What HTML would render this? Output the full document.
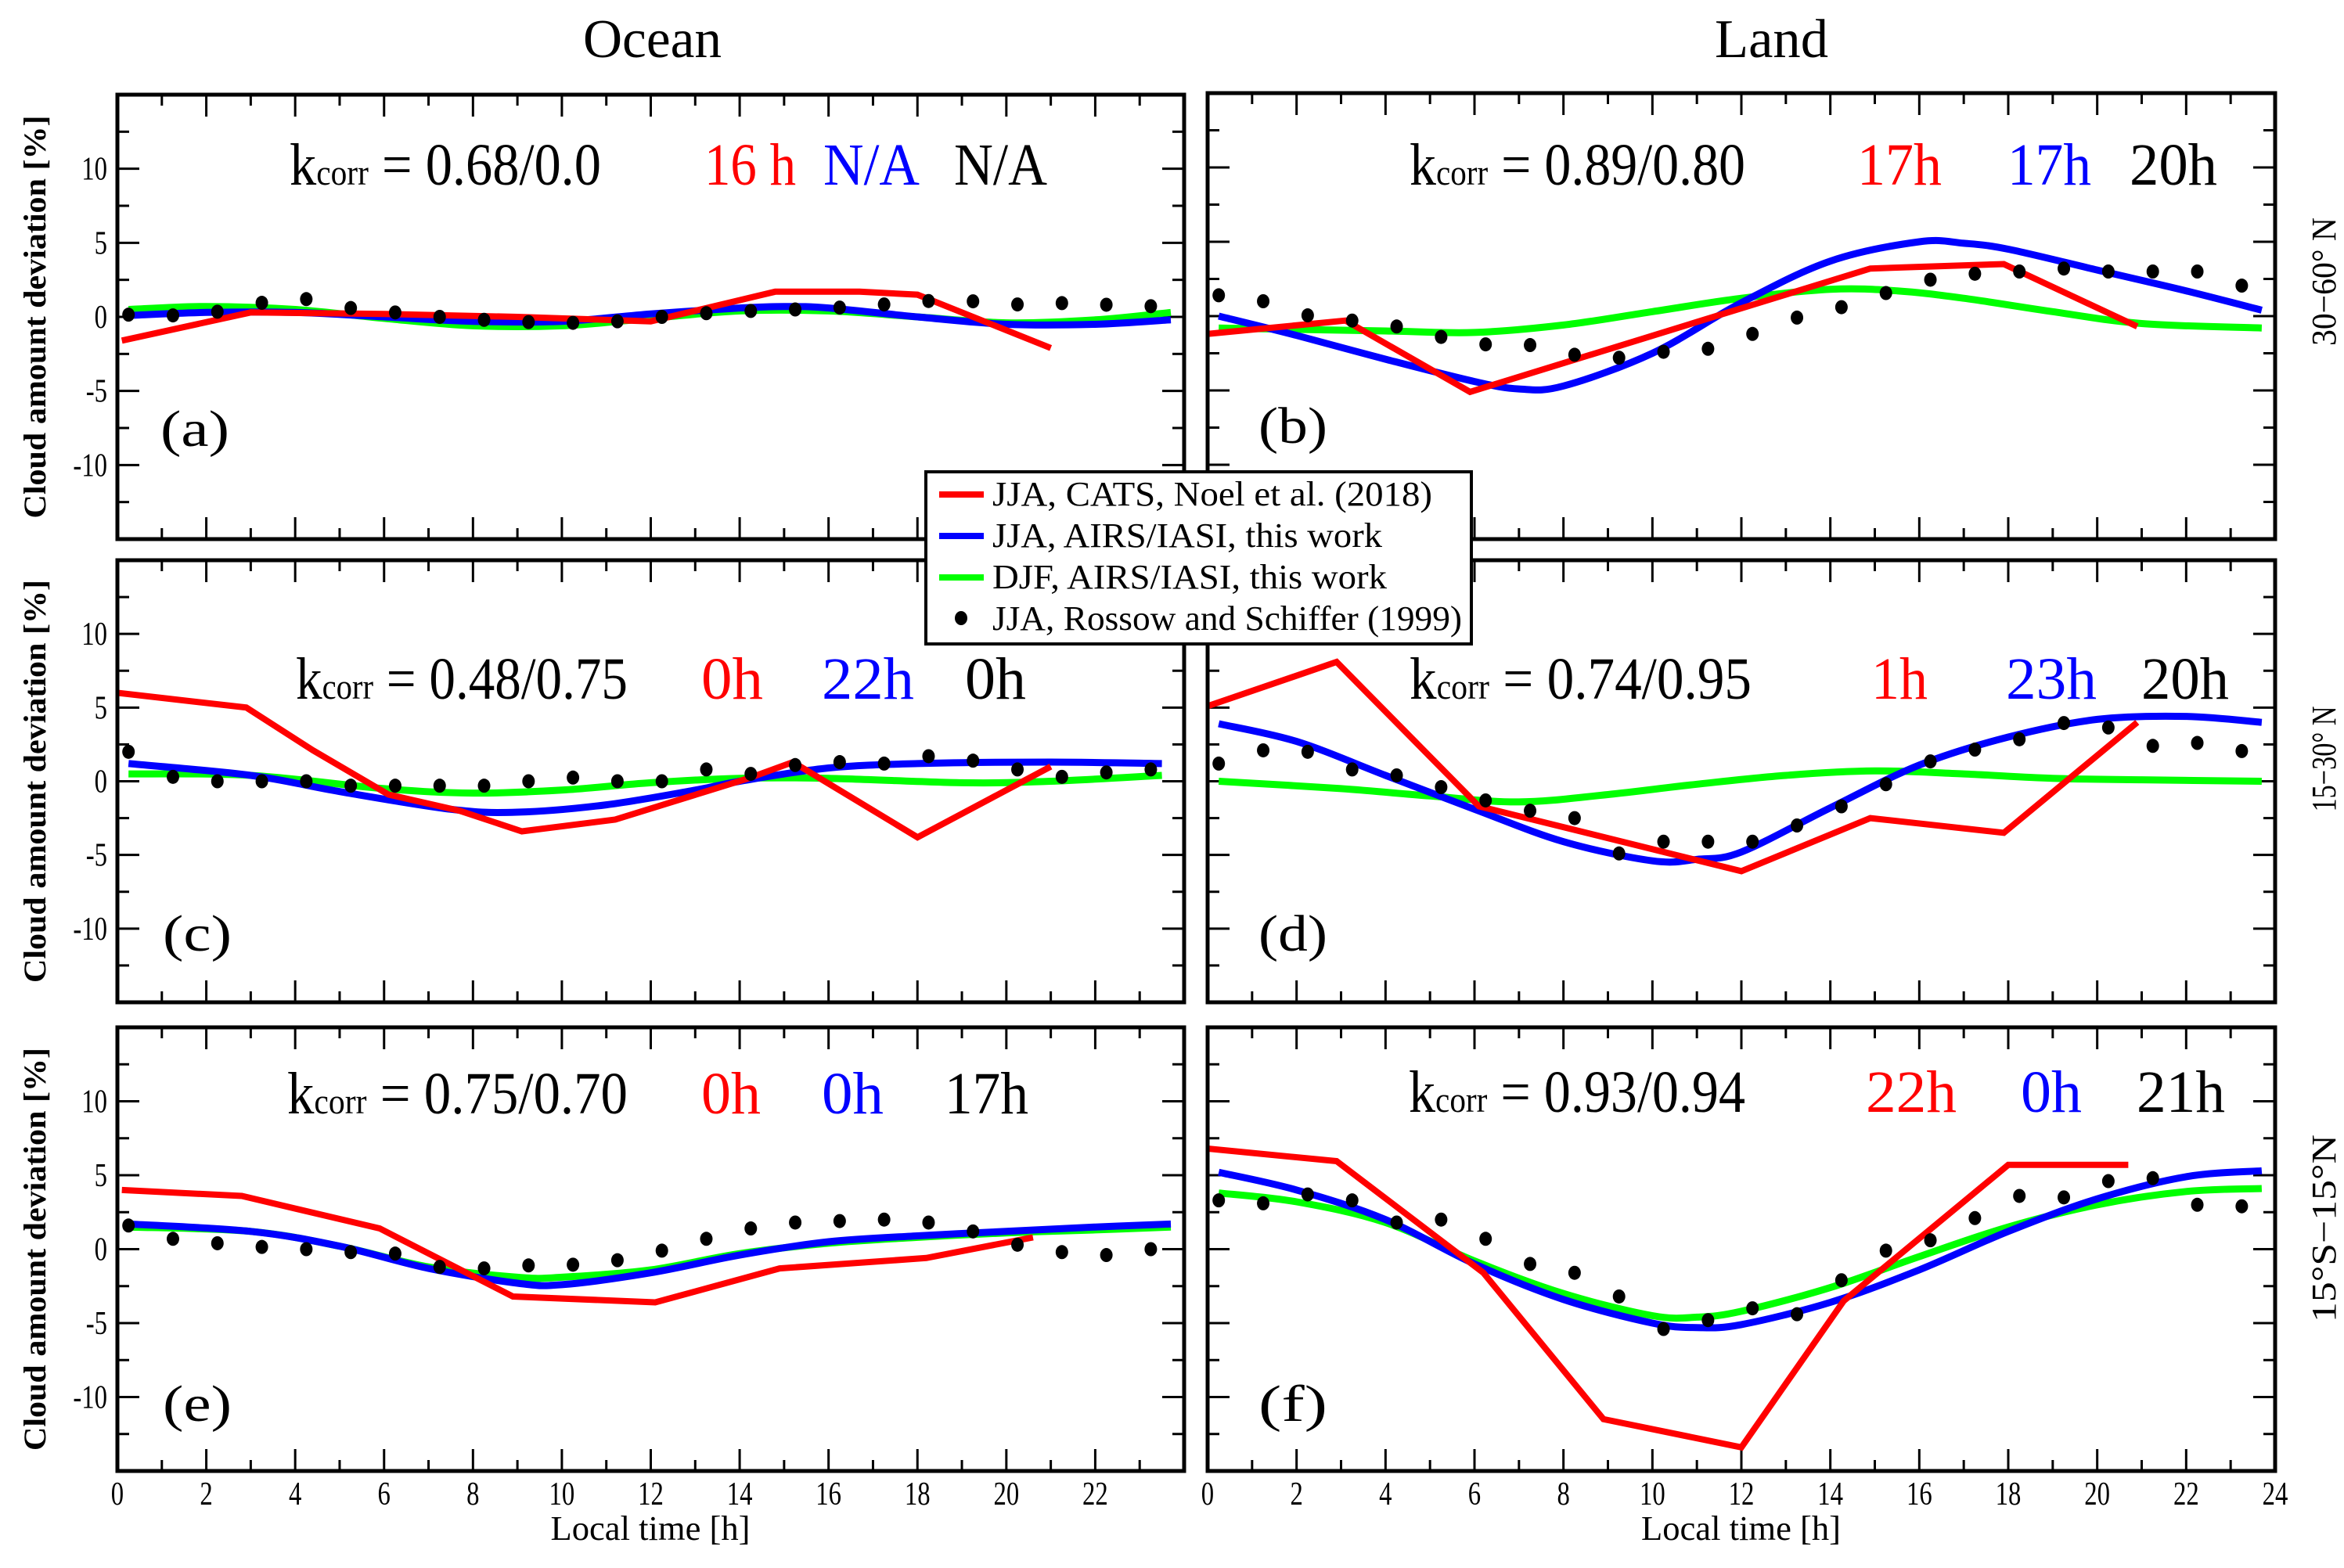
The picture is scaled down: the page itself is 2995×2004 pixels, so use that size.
<!DOCTYPE html>
<html><head><meta charset="utf-8">
<style>
html,body{margin:0;padding:0;background:#fff;}
svg{display:block;}
text{font-family:"Liberation Serif",serif;}
</style></head>
<body>
<svg id="fig" xmlns="http://www.w3.org/2000/svg" width="2995" height="2004" viewBox="0 0 2995 2004" font-family="Liberation Serif, serif">
<rect x="0" y="0" width="2995" height="2004" fill="#fff"/>
<text x="745" y="73" font-size="70" font-family="Liberation Serif, serif" textLength="177" lengthAdjust="spacingAndGlyphs">Ocean</text>
<text x="2191" y="73" font-size="70" font-family="Liberation Serif, serif" textLength="145" lengthAdjust="spacingAndGlyphs">Land</text>
<g id="panels"></g>
<g id="legend" font-family="Liberation Serif, serif">
  <rect x="1183" y="603" width="697" height="220" fill="#fff" stroke="#000" stroke-width="4"/>
  <line x1="1200" y1="632" x2="1257" y2="632" stroke="#ff0000" stroke-width="8"/>
  <text x="1268" y="646" font-size="44" textLength="562" lengthAdjust="spacingAndGlyphs">JJA, CATS, Noel et al. (2018)</text>
  <line x1="1200" y1="685" x2="1257" y2="685" stroke="#0000ff" stroke-width="8"/>
  <text x="1268" y="699" font-size="44" textLength="498" lengthAdjust="spacingAndGlyphs">JJA, AIRS/IASI, this work</text>
  <line x1="1200" y1="738" x2="1257" y2="738" stroke="#00ff00" stroke-width="8"/>
  <text x="1268" y="752" font-size="44" textLength="504" lengthAdjust="spacingAndGlyphs">DJF, AIRS/IASI, this work</text>
  <ellipse cx="1228" cy="790" rx="8" ry="9" fill="#000"/>
  <text x="1268" y="805" font-size="44" textLength="600" lengthAdjust="spacingAndGlyphs">JJA, Rossow and Schiffer (1999)</text>
</g>
</svg>
<script>
// ---- data ----
const hourDots = [0.25,1.25,2.25,3.25,4.25,5.25,6.25,7.25,8.25,9.25,10.25,11.25,12.25,13.25,14.25,15.25,16.25,17.25,18.25,19.25,20.25,21.25,22.25,23.25];
const yTicks = [-10,-5,0,5,10];
const xTicksOcean = [0,2,4,6,8,10,12,14,16,18,20,22];
const xTicksLand = [0,2,4,6,8,10,12,14,16,18,20,22,24];

// panel a
const aRedX=[0.1,3,6,9,12,14.8,16.7,18,21];
const aRedY=[-1.6,0.3,0.2,0,-0.3,1.7,1.7,1.5,-2.1];
const aBlueX=[0.25,2,4,6,8,10,12,14,15,16,18,20,22,23.7];
const aBlueY=[0.1,0.3,0.3,0.0,-0.3,-0.3,0.2,0.6,0.7,0.6,0.0,-0.5,-0.5,-0.2];
const aGreenX=[0.25,2,4,6,8,10,12,14,16,18,20,22,23.7];
const aGreenY=[0.5,0.7,0.5,-0.1,-0.6,-0.6,-0.1,0.4,0.4,0.0,-0.4,-0.2,0.3];
const aDots=[0.15,0.1,0.35,0.95,1.2,0.6,0.3,0,-0.2,-0.35,-0.4,-0.3,0,0.25,0.4,0.5,0.63,0.84,1.07,1.05,0.84,0.93,0.82,0.72];
// panel b
const bRedX=[0,3.1,5.9,14.9,17.9,20.9];
const bRedY=[-1.2,-0.3,-5.1,3.2,3.5,-0.7];
const bBlueX=[0.25,2,4,6,7,8,10,12,14,16,17,18,20,22,23.7];
const bBlueY=[0,-1.3,-2.9,-4.4,-4.9,-4.7,-2.5,0.9,3.7,5,4.9,4.5,3.1,1.7,0.4];
const bGreenX=[0.25,4,6,8,10,12,14,15.5,17,19,21,23.7];
const bGreenY=[-0.8,-1.0,-1.1,-0.6,0.3,1.2,1.8,1.7,1.2,0.3,-0.5,-0.8];
const bDots=[1.4,1.0,0.05,-0.3,-0.7,-1.4,-1.9,-1.95,-2.6,-2.8,-2.4,-2.2,-1.2,-0.1,0.6,1.55,2.45,2.85,3.0,3.2,3.0,3.0,3.0,2.05];
// panel c
const cRedX=[0,2.9,4.4,6.1,7.7,9.1,11.2,14.2,15.2,18,21];
const cRedY=[6.0,5.0,2.1,-0.9,-2.0,-3.4,-2.6,0.2,1.3,-3.8,1.0];
const cBlueX=[0.25,3,5,7.5,9,11,13,14,16,18,21,23.5];
const cBlueY=[1.2,0.4,-0.7,-1.9,-2.1,-1.6,-0.6,0,0.9,1.2,1.3,1.2];
const cGreenX=[0.25,3,6,8,10,12,14,16,19,21,23.5];
const cGreenY=[0.5,0.4,-0.5,-0.8,-0.6,-0.1,0.2,0.2,-0.1,0,0.4];
const cDots=[2.0,0.3,0,0,0,-0.3,-0.3,-0.3,-0.3,0,0.25,0,0,0.8,0.5,1.1,1.3,1.2,1.7,1.4,0.8,0.3,0.6,0.8];
// panel d
const dRedX=[0,2.9,6.1,12,14.9,17.9,20.9];
const dRedY=[5.1,8.1,-1.7,-6.1,-2.5,-3.5,4.0];
const dBlueX=[0.25,2,4,6,8,10,11,12,14,16,18,20,22,23.7];
const dBlueY=[3.9,2.7,0.4,-1.9,-4.1,-5.4,-5.3,-4.8,-1.8,1.1,3.0,4.2,4.4,4.0];
const dGreenX=[0.25,3,5,7,9,11,13,15,17,19,21,23.7];
const dGreenY=[0,-0.5,-1,-1.4,-0.9,-0.2,0.4,0.7,0.5,0.2,0.1,0];
const dDots=[1.2,2.1,2.0,0.8,0.4,-0.4,-1.3,-2.0,-2.5,-4.9,-4.1,-4.1,-4.1,-3.0,-1.7,-0.2,1.35,2.15,2.85,3.95,3.65,2.4,2.6,2.05];
// panel e
const eRedX=[0.1,2.8,5.9,8.9,12.1,14.9,18.2,20.6];
const eRedY=[4.0,3.6,1.4,-3.2,-3.6,-1.3,-0.6,0.8];
const eBlueX=[0.25,3,5,7,9,10,12,14,16,18,20,22,23.7];
const eBlueY=[1.7,1.2,0.2,-1.3,-2.3,-2.4,-1.6,-0.4,0.5,0.9,1.2,1.5,1.7];
const eGreenX=[0.25,3,5,7,9,10,12,14,16,18,20,22,23.7];
const eGreenY=[1.5,1.2,0.2,-1.2,-1.9,-1.9,-1.4,-0.3,0.4,0.8,1.1,1.3,1.5];
const eDots=[1.6,0.7,0.4,0.15,0,-0.2,-0.3,-1.2,-1.3,-1.1,-1.05,-0.75,-0.1,0.7,1.4,1.8,1.9,2.0,1.8,1.2,0.3,-0.2,-0.4,0];
// panel f
const fRedX=[0,2.9,6.2,8.9,12,14.3,18,20.7];
const fRedY=[6.8,5.95,-1.6,-11.5,-13.4,-3.5,5.7,5.7];
const fBlueX=[0.25,2,4,6,8,10,11,12,14,16,18,20,22,23.7];
const fBlueY=[5.2,4,2,-1,-3.4,-5,-5.3,-5.1,-3.6,-1.4,1.2,3.4,4.9,5.3];
const fGreenX=[0.25,2,4,6,8,10,11,12,14,16,18,20,22,23.7];
const fGreenY=[3.8,3.2,1.8,-0.8,-3,-4.5,-4.6,-4.2,-2.6,-0.5,1.5,3,3.9,4.1];
const fDots=[3.3,3.1,3.7,3.3,1.8,2,0.7,-1,-1.6,-3.2,-5.4,-4.8,-4,-4.4,-2.1,-0.1,0.6,2.1,3.6,3.5,4.6,4.8,3,2.9];

const NS='http://www.w3.org/2000/svg';
const SERIF='Liberation Serif, serif';
const root=document.getElementById('panels');
function mk(tag,attrs,parent){const e=document.createElementNS(NS,tag);for(const k in attrs)e.setAttribute(k,attrs[k]);if(tag==='text'&&!attrs['font-family'])e.setAttribute('font-family',SERIF);(parent||root).appendChild(e);return e;}

const panels=[
 {id:'a',L:150,R:1513,T:121,B:689,rx:aRedX,ry:aRedY,bx:aBlueX,by:aBlueY,gx:aGreenX,gy:aGreenY,dots:aDots,
  k:[370,768,'0.68/0.0'],bl:236,ann:[[900,1017,'16 h','#ff0000'],[1052,1175,'N/A','#0000ff'],[1219,1338,'N/A','#000']],lab:[205,570],ocean:true,bottom:false},
 {id:'b',L:1543,R:2907,T:119,B:689,rx:bRedX,ry:bRedY,bx:bBlueX,by:bBlueY,gx:bGreenX,gy:bGreenY,dots:bDots,
  k:[1801,2230,'0.89/0.80'],bl:236,ann:[[2373,2481,'17h','#ff0000'],[2565,2672,'17h','#0000ff'],[2721,2833,'20h','#000']],lab:[1608,566],ocean:false,bottom:false,region:['30−60° N',360,164]},
 {id:'c',L:150,R:1513,T:716,B:1281,rx:cRedX,ry:cRedY,bx:cBlueX,by:cBlueY,gx:cGreenX,gy:cGreenY,dots:cDots,
  k:[378,802,'0.48/0.75'],bl:893,ann:[[896,975,'0h','#ff0000'],[1050,1168,'22h','#0000ff'],[1233,1311,'0h','#000']],lab:[208,1215],ocean:true,bottom:false},
 {id:'d',L:1543,R:2907,T:716,B:1281,rx:dRedX,ry:dRedY,bx:dBlueX,by:dBlueY,gx:dGreenX,gy:dGreenY,dots:dDots,
  k:[1801,2238,'0.74/0.95'],bl:893,ann:[[2391,2463,'1h','#ff0000'],[2563,2679,'23h','#0000ff'],[2736,2848,'20h','#000']],lab:[1608,1215],ocean:false,bottom:false,region:['15−30° N',970,135]},
 {id:'e',L:150,R:1513,T:1313,B:1880,rx:eRedX,ry:eRedY,bx:eBlueX,by:eBlueY,gx:eGreenX,gy:eGreenY,dots:eDots,
  k:[367,802,'0.75/0.70'],bl:1423,ann:[[896,972,'0h','#ff0000'],[1050,1129,'0h','#0000ff'],[1207,1314,'17h','#000']],lab:[208,1816],ocean:true,bottom:true},
 {id:'f',L:1543,R:2907,T:1313,B:1880,rx:fRedX,ry:fRedY,bx:fBlueX,by:fBlueY,gx:fGreenX,gy:fGreenY,dots:fDots,
  k:[1800,2230,'0.93/0.94'],bl:1421,ann:[[2384,2500,'22h','#ff0000'],[2582,2660,'0h','#0000ff'],[2730,2843,'21h','#000']],lab:[1608,1816],ocean:false,bottom:true,region:['15°S−15°N',1570,240]}
];

function smoothPath(pts){
  let d='M'+pts[0][0].toFixed(1)+','+pts[0][1].toFixed(1);
  for(let i=0;i<pts.length-1;i++){
    const p0=pts[Math.max(0,i-1)],p1=pts[i],p2=pts[i+1],p3=pts[Math.min(pts.length-1,i+2)];
    const c1=[p1[0]+(p2[0]-p0[0])/6,p1[1]+(p2[1]-p0[1])/6];
    const c2=[p2[0]-(p3[0]-p1[0])/6,p2[1]-(p3[1]-p1[1])/6];
    d+=' C'+c1[0].toFixed(1)+','+c1[1].toFixed(1)+' '+c2[0].toFixed(1)+','+c2[1].toFixed(1)+' '+p2[0].toFixed(1)+','+p2[1].toFixed(1);
  }
  return d;
}

panels.forEach(p=>{
  const g=mk('g',{});
  
  
  const xs=h=>p.L+(p.R-p.L)*h/24;
  const ys=v=>p.T+(p.B-p.T)*(15-v)/30;
  const clip=mk('clipPath',{id:'clip'+p.id},g);
  mk('rect',{x:p.L,y:p.T,width:p.R-p.L,height:p.B-p.T},clip);
  const tk=mk('g',{stroke:'#000','stroke-width':3},g);
  
  
  for(let h=1;h<24;h++){
    const len=(h%2===0)?28:14, x=xs(h);
    mk('line',{x1:x,y1:p.B,x2:x,y2:p.B-len},tk);
    mk('line',{x1:x,y1:p.T,x2:x,y2:p.T+len},tk);
  }
  for(let v=-12.5;v<=12.5;v+=2.5){
    const len=(Math.abs(v%5)<0.01)?28:15, y=ys(v);
    mk('line',{x1:p.L,y1:y,x2:p.L+len,y2:y},tk);
    mk('line',{x1:p.R,y1:y,x2:p.R-len,y2:y},tk);
  }
  const dataG=mk('g',{'clip-path':'url(#clip'+p.id+')'},g);
  const gpts=p.gx.map((x,i)=>[xs(x),ys(p.gy[i])]);
  const gp=mk('path',{d:smoothPath(gpts),fill:'none',stroke:'#00ff00','stroke-width':9},dataG);
  
  
  const bpts=p.bx.map((x,i)=>[xs(x),ys(p.by[i])]);
  const bp=mk('path',{d:smoothPath(bpts),fill:'none',stroke:'#0000ff','stroke-width':9},dataG);
  
  
  const rp=mk('polyline',{points:p.rx.map((x,i)=>xs(x).toFixed(1)+','+ys(p.ry[i]).toFixed(1)).join(' '),fill:'none',stroke:'#ff0000','stroke-width':8,'stroke-linejoin':'miter'},dataG);
  
  
  p.dots.forEach((v,i)=>{
    const c=mk('ellipse',{cx:xs(hourDots[i]),cy:ys(v),rx:8,ry:9,fill:'#000'},dataG);
    
    
  });
  const fr=mk('rect',{x:p.L,y:p.T,width:p.R-p.L,height:p.B-p.T,fill:'none',stroke:'#000','stroke-width':5},g);
  
  
  if(p.ocean){
    yTicks.forEach(v=>{
      const t=mk('text',{x:137,y:ys(v)+14,'font-size':42,'text-anchor':'end',transform:'translate(137,0) scale(0.78,1) translate(-137,0)'},g);
      t.textContent=String(v);
      
      
    });
    const yt=mk('text',{x:0,y:0,'font-size':40,'font-weight':'bold','text-anchor':'middle','font-family':'DejaVu Sans, sans-serif',textLength:515,lengthAdjust:'spacingAndGlyphs',transform:'translate(58,'+((p.T+p.B)/2)+') rotate(-90)'},g);
    yt.textContent='Cloud amount deviation [%]';
    
    
  }
  if(p.bottom){
    const tl=p.ocean?xTicksOcean:xTicksLand;
    tl.forEach(h=>{
      const x=xs(h);
      const t=mk('text',{x:x,y:1923,'font-size':42,'text-anchor':'middle',transform:'translate('+x+',0) scale(0.78,1) translate('+(-x)+',0)'},g);
      t.textContent=String(h);
      
      
    });
    const xt=mk('text',{x:(p.L+p.R)/2-128,y:1968,'font-size':44,textLength:255,lengthAdjust:'spacingAndGlyphs'},g);
    xt.textContent='Local time [h]';
    
    
  }
  const kt=mk('text',{x:p.k[0],y:p.bl,'font-size':76,textLength:p.k[1]-p.k[0],lengthAdjust:'spacingAndGlyphs'},g);
  
  
  const s1=mk('tspan',{},kt); s1.textContent='k';
  const s2=mk('tspan',{'font-size':46},kt); s2.textContent='corr';
  const s3=mk('tspan',{},kt); s3.textContent=' = '+p.k[2];
  p.ann.forEach((a,i)=>{
    const t=mk('text',{x:a[0],y:p.bl,'font-size':76,fill:a[3],textLength:a[1]-a[0],lengthAdjust:'spacingAndGlyphs'},g);
    t.textContent=a[2];
    
    
  });
  const pl=mk('text',{x:p.lab[0],y:p.lab[1],'font-size':66,textLength:88,lengthAdjust:'spacingAndGlyphs'},g);
  pl.textContent='('+p.id+')';
  
  
  if(p.region){
    const rt=mk('text',{x:0,y:0,'font-size':44,'text-anchor':'middle',textLength:p.region[2],lengthAdjust:'spacingAndGlyphs',transform:'translate(2984,'+p.region[1]+') rotate(-90)'},g);
    rt.textContent=p.region[0];
    
    
  }
});
document.getElementById('fig').appendChild(document.getElementById('legend'));
</script>
</body></html>
